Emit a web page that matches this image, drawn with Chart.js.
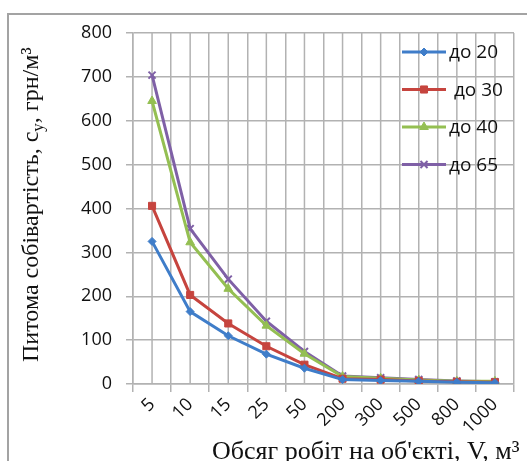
<!DOCTYPE html>
<html>
<head>
<meta charset="utf-8">
<script src="https://cdn.jsdelivr.net/npm/chart.js@4.4.1/dist/chart.umd.min.js"></script>
<style>
  html, body { margin: 0; padding: 0; background: #fff; }
  #wrap { position: relative; width: 527px; height: 461px; overflow: hidden; }
  #frame { position: absolute; left: 7px; top: 13px; width: 540px; height: 470px; border: 2px solid #a3a3a3; box-sizing: border-box; }
  canvas { position: absolute; left: 0; top: 0; }
</style>
</head>
<body>
<div id="wrap">
  <div id="frame"></div>
  <canvas id="chart" width="527" height="461"></canvas>
</div>
<script>
// Обсяг робіт, м3
const volumes = ["5", "10", "15", "25", "50", "200", "300", "500", "800", "1000"];

// Питома собівартість для кожної групи
const do20 = [325, 165, 110, 68, 36, 10, 8, 6, 4, 3];
const do30 = [406, 203, 138, 86, 44, 12, 10, 7, 5, 4];
const do40 = [645, 323, 217, 133, 69, 17, 13, 9, 6, 6];
const do65 = [704, 354, 239, 143, 74, 18, 14, 10, 7, 5];

const seriesNames = ["до 20", " до 30", "до 40", "до 65"];
const colors = ["#3f7dc9", "#c6443e", "#94bf52", "#7f60a6"];
const markers = ["rectRot", "rect", "triangle", "crossRot"];
const markerSizes = [4, 5, 5, 5];

const tickFont = { family: "Open Sans", size: 18 };
const gridColor = "#b2b2b2";

// Додаткові вертикальні лінії сітки по центрах категорій
const centerGrid = {
  id: "centerGrid",
  beforeDatasetsDraw(chart) {
    const { ctx, chartArea, scales } = chart;
    ctx.save();
    ctx.strokeStyle = gridColor;
    ctx.lineWidth = 1.5;
    volumes.forEach((v, i) => {
      const px = scales.x.getPixelForValue(i);
      ctx.beginPath();
      ctx.moveTo(px, chartArea.top);
      ctx.lineTo(px, chartArea.bottom);
      ctx.stroke();
    });
    ctx.restore();
  }
};

// Підписи осей (з індексами) та легенда всередині графіка
const axisTitles = {
  id: "axisTitles",
  afterDraw(chart) {
    const ctx = chart.ctx;
    ctx.save();
    ctx.fillStyle = "#111";
    ctx.textBaseline = "alphabetic";
    ctx.textAlign = "left";

    // вісь X
    ctx.font = "26px 'Liberation Serif'";
    ctx.fillText("Обсяг робіт на об'єкті, V, м³", 212, 459);

    // вісь Y (повернута)
    ctx.translate(38, 362);
    ctx.rotate(-Math.PI / 2);
    let x = 0;
    const part = (txt, font, dy) => {
      ctx.font = font;
      ctx.fillText(txt, x, dy);
      x += ctx.measureText(txt).width;
    };
    part("Питома собівартість, c", "24px 'Liberation Serif'", 0);
    part("y", "17px 'Liberation Serif'", 5);
    part(", грн/м³", "24px 'Liberation Serif'", 0);
    ctx.restore();

    // легенда
    ctx.save();
    chart.data.datasets.forEach((ds, i) => {
      const y = 52 + i * 37.5;
      ctx.strokeStyle = ds.borderColor;
      ctx.fillStyle = ds.borderColor;
      ctx.lineWidth = 3;
      ctx.beginPath();
      ctx.moveTo(402, y);
      ctx.lineTo(446, y);
      ctx.stroke();
      ctx.lineWidth = ds.pointBorderWidth;
      Chart.helpers.drawPoint(ctx, {
        pointStyle: ds.pointStyle,
        radius: ds.pointRadius,
        borderWidth: ds.pointBorderWidth,
        rotation: 0
      }, 424, y);
      ctx.fillStyle = "#111";
      ctx.font = "19px 'Open Sans'";
      ctx.textBaseline = "middle";
      ctx.textAlign = "left";
      ctx.fillText(ds.label, 449, y + 1);
    });
    ctx.restore();
  }
};

const datasets = [do20, do30, do40, do65].map((vals, i) => ({
  label: seriesNames[i],
  data: vals,
  borderColor: colors[i],
  backgroundColor: colors[i],
  pointBackgroundColor: colors[i],
  pointBorderColor: colors[i],
  pointStyle: markers[i],
  pointRadius: markerSizes[i],
  pointBorderWidth: i === 3 ? 2 : 1,
  borderWidth: 3,
  tension: 0,
  fill: false
}));

new Chart(document.getElementById("chart"), {
  type: "line",
  data: { labels: volumes, datasets: datasets },
  options: {
    responsive: false,
    devicePixelRatio: 1,
    animation: false,
    layout: { padding: { top: 33, right: 13, left: 0, bottom: 0 } },
    plugins: { legend: { display: false }, tooltip: { enabled: false } },
    scales: {
      x: {
        type: "category",
        offset: true,
        grid: { offset: true, color: gridColor, lineWidth: 1.5, tickLength: 8 },
        border: { color: gridColor, width: 1.5 },
        ticks: { font: tickFont, color: "#111", minRotation: 45, maxRotation: 45, padding: 2 },
        afterFit: (axis) => { axis.height = 77; }
      },
      y: {
        min: 0,
        max: 800,
        ticks: { stepSize: 100, font: tickFont, color: "#111", padding: 14 },
        grid: { color: gridColor, lineWidth: 1.5, tickLength: 7 },
        border: { color: gridColor, width: 1.5 },
        afterFit: (axis) => { axis.width = 133; }
      }
    }
  },
  plugins: [centerGrid, axisTitles]
});
</script>
</body>
</html>
